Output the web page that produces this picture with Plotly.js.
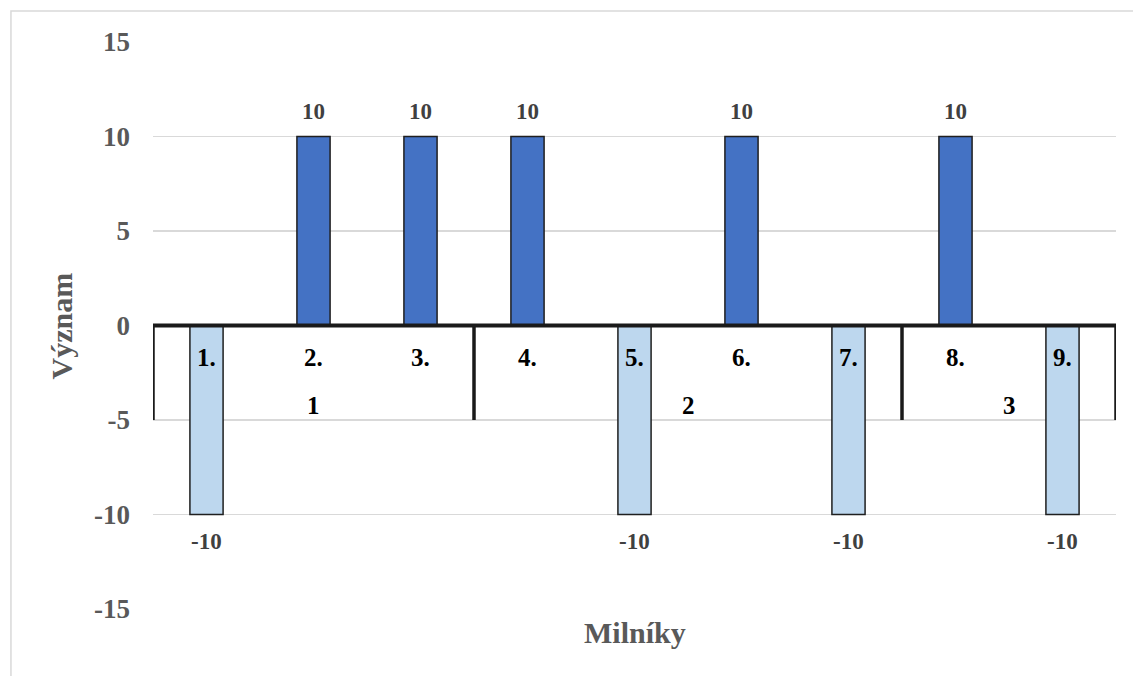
<!DOCTYPE html>
<html>
<head>
<meta charset="utf-8">
<script src="https://cdn.plot.ly/plotly-3.0.1.min.js"></script>
<style>html,body{margin:0;padding:0;background:#fff;}#chart{width:1133px;height:676px;}</style>
</head>
<body>
<div id="chart"></div>
<script>
// ---- data ----
const categories = ['1.', '2.', '3.', '4.', '5.', '6.', '7.', '8.', '9.'];
const positiveValues = [null, 10, 10, 10, null, 10, null, 10, null];
const negativeValues = [-10, null, null, null, -10, null, -10, null, -10];
const groupNames = ['1', '2', '3'];
const groupSizes = [3, 4, 2];
const yTicks = [-15, -10, -5, 0, 5, 10, 15];
const xTitle = 'Milníky';
const yTitle = 'Význam';

const FONT = 'Liberation Serif, Times New Roman, serif';
const idx = categories.map((c, i) => i);

const traces = [
  {
    type: 'bar', x: idx, y: positiveValues, width: 0.31,
    marker: {color: '#4472C4', line: {color: '#1f1f1f', width: 1.5}},
    hoverinfo: 'y', showlegend: false
  },
  {
    type: 'bar', x: idx, y: negativeValues, width: 0.31,
    marker: {color: '#BDD7EE', line: {color: '#1f1f1f', width: 1.5}},
    hoverinfo: 'y', showlegend: false
  }
];

const annotations = [];
// data labels
positiveValues.forEach((v, i) => {
  if (v !== null) annotations.push({x: i, y: v, xref: 'x', yref: 'y', text: String(v), showarrow: false,
    yshift: 25, yanchor: 'middle', font: {family: FONT, size: 23, color: '#404040', weight: 'bold'}});
});
negativeValues.forEach((v, i) => {
  if (v !== null) annotations.push({x: i, y: v, xref: 'x', yref: 'y', text: String(v), showarrow: false,
    yshift: -27, yanchor: 'middle', font: {family: FONT, size: 23, color: '#404040', weight: 'bold'}});
});
// category labels
categories.forEach((c, i) => {
  annotations.push({x: i, y: 0, xref: 'x', yref: 'y', text: c, showarrow: false,
    yshift: -32, yanchor: 'middle', font: {family: FONT, size: 25, color: '#000000', weight: 'bold'}});
});
// group labels and separators
const shapes = [];
let start = 0;
groupSizes.forEach((n, g) => {
  const center = start + (n - 1) / 2;
  annotations.push({x: center, y: 0, xref: 'x', yref: 'y', text: groupNames[g], showarrow: false,
    yshift: -80, yanchor: 'middle', font: {family: FONT, size: 25, color: '#000000', weight: 'bold'}});
  start += n;
});
const boundaries = [-0.5];
let acc = -0.5;
groupSizes.forEach(n => { acc += n; boundaries.push(acc); });
boundaries.forEach(b => {
  shapes.push({type: 'line', xref: 'x', yref: 'y', x0: b, x1: b, y0: 0, y1: -5,
    line: {color: '#1a1a1a', width: 3.5}, layer: 'above'});
});
// zero axis line
shapes.push({type: 'line', xref: 'x', yref: 'y', x0: -0.5, x1: categories.length - 0.5, y0: 0, y1: 0,
  line: {color: '#1a1a1a', width: 4}, layer: 'above'});
// chart border
shapes.push({type: 'rect', xref: 'paper', yref: 'paper', x0: -0.1475, x1: 1.05, y0: -0.2, y1: 1.0547,
  line: {color: '#d9d9d9', width: 1.5}, fillcolor: 'rgba(0,0,0,0)', layer: 'below'});

// axis titles
annotations.push({xref: 'paper', yref: 'paper', x: 0.5, y: -0.0423, text: xTitle, showarrow: false,
  xanchor: 'center', yanchor: 'middle', font: {family: FONT, size: 30, color: '#595959', weight: 'bold'}});
annotations.push({xref: 'paper', yref: 'paper', x: -0.0945, y: 0.5, text: yTitle, showarrow: false, textangle: -90,
  xanchor: 'center', yanchor: 'middle', font: {family: FONT, size: 30, color: '#595959', weight: 'bold'}});

const layout = {
  width: 1133, height: 676,
  margin: {l: 153, r: 17, t: 42, b: 67},
  paper_bgcolor: '#ffffff', plot_bgcolor: '#ffffff',
  barmode: 'overlay',
  showlegend: false,
  font: {family: FONT},
  xaxis: {
    type: 'linear', range: [-0.5, categories.length - 0.5],
    showticklabels: false, showgrid: false, zeroline: false, showline: false, ticks: ''
  },
  yaxis: {
    range: [-15, 15], tickvals: yTicks, ticktext: yTicks.map(String),
    showgrid: true, gridcolor: '#d9d9d9', gridwidth: 1.5,
    zeroline: false, showline: false, ticks: '',
    ticklabelstandoff: 22,
    tickfont: {family: FONT, size: 27, color: '#595959', weight: 'bold'}
  },
  annotations: annotations,
  shapes: shapes
};

Plotly.newPlot('chart', traces, layout, {displayModeBar: false, staticPlot: true});
</script>
</body>
</html>
